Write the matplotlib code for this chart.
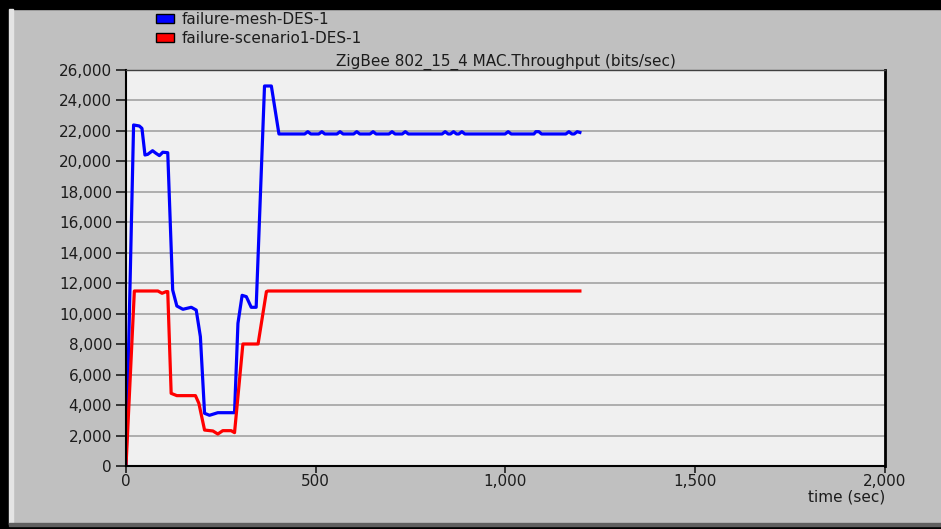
import matplotlib
matplotlib.use("Agg")
import matplotlib.pyplot as plt
from matplotlib.patches import Patch, Rectangle
from matplotlib.ticker import FuncFormatter, MultipleLocator

# data (time in sec, throughput in bits/sec)
mesh_t = [0, 20, 35, 42, 50, 57, 70, 79, 88, 97, 110, 123, 134, 150, 172, 185,
          196, 207, 220, 242, 286, 295, 306, 317, 330, 343, 365, 383, 403,
          471, 479, 487, 508, 516, 524, 556, 564, 572, 600, 608, 616, 643, 651,
          659, 693, 701, 709, 728, 736, 744, 833, 841, 849, 855, 863, 871, 877,
          885, 893, 999, 1007, 1015, 1075, 1080, 1088, 1095, 1159, 1167, 1175,
          1181, 1189, 1196]
mesh_v = [0, 22390, 22325, 22170, 20420, 20460, 20700, 20530, 20380, 20600,
          20570, 11555, 10505, 10290, 10420, 10240, 8490, 3460, 3330, 3500,
          3500, 9370, 11205, 11120, 10420, 10420, 24950, 24950, 21800,
          21800, 21950, 21800, 21800, 21950, 21800, 21800, 21950, 21800, 21800,
          21950, 21800, 21800, 21950, 21800, 21800, 21950, 21800, 21800, 21950,
          21800, 21800, 21950, 21800, 21800, 21950, 21800, 21800, 21950, 21800,
          21800, 21950, 21800, 21800, 21950, 21950, 21800, 21800, 21950, 21800,
          21800, 21950, 21900]

scen_t = [0, 22, 84, 95, 106, 110, 119, 134, 183, 192, 207, 229, 242, 255,
          277, 286, 308, 348, 370, 374, 1196]
scen_v = [0, 11490, 11490, 11340, 11450, 11450, 4770, 4620, 4620, 4115, 2360,
          2300, 2100, 2320, 2320, 2190, 8010, 8010, 11450, 11490, 11490]

labels = ["failure-mesh-DES-1", "failure-scenario1-DES-1"]
title = "ZigBee 802_15_4 MAC.Throughput (bits/sec)"

plt.rcParams['font.family'] = ['DejaVu Sans']
fs = 11
tc = "#1c1c1c"

fig = plt.figure(figsize=(9.41, 5.29), dpi=100, facecolor="#c0c0c0")

# window frame bits (black edges + light bevel)
fig.patches.append(Rectangle((0, 1 - 9/529), 1, 9/529, transform=fig.transFigure,
                             color="black", zorder=0))
fig.patches.append(Rectangle((0, 0), 9/941, 1, transform=fig.transFigure,
                             color="black", zorder=0))
fig.patches.append(Rectangle((9/941, 5/529), 4/941, 1 - 14/529,
                             transform=fig.transFigure, color="#e4e4e4", zorder=0))
fig.patches.append(Rectangle((0, 0), 1, 3/529, transform=fig.transFigure,
                             color="black", zorder=0))
fig.patches.append(Rectangle((9/941, 3/529), 1, 3/529, transform=fig.transFigure,
                             color="#606060", zorder=0))

ax = fig.add_axes([126/941, 63/529, 759/941, 396/529])
ax.set_facecolor("#f0f0f0")

ax.plot(mesh_t, mesh_v, color="#0000ff", lw=2.3, solid_joinstyle="round")
ax.plot(scen_t, scen_v, color="#ff0000", lw=2.3, solid_joinstyle="round")

ax.set_xlim(0, 2000)
ax.set_ylim(0, 26000)
ax.xaxis.set_major_locator(MultipleLocator(500))
ax.yaxis.set_major_locator(MultipleLocator(2000))
fmt = FuncFormatter(lambda v, p: "{:,.0f}".format(v))
ax.xaxis.set_major_formatter(fmt)
ax.yaxis.set_major_formatter(fmt)
ax.grid(axis="y", color="#9c9c9c", lw=1.1)
ax.set_axisbelow(True)

ax.tick_params(axis="y", direction="out", length=7, width=1.2, color=tc,
               labelsize=fs, labelcolor=tc, pad=3)
ax.tick_params(axis="x", direction="out", length=5, width=1.2, color=tc,
               labelsize=fs, labelcolor=tc, pad=1)

for s in ["left", "bottom"]:
    ax.spines[s].set_color("black")
    ax.spines[s].set_linewidth(1.5)
ax.spines["top"].set_color("#404040")
ax.spines["top"].set_linewidth(1.0)
ax.spines["right"].set_color("black")
ax.spines["right"].set_linewidth(2.0)

ax.set_title(title, fontsize=fs, color=tc, pad=3)
ax.set_xlabel("time (sec)", fontsize=fs, color=tc, loc="right", labelpad=0)

handles = [Patch(facecolor="#0000ff", edgecolor="black", lw=1),
           Patch(facecolor="#ff0000", edgecolor="black", lw=1)]
fig.legend(handles, labels, loc="upper left", bbox_to_anchor=(150/941, 1 - 6/529),
           frameon=False, fontsize=fs, handlelength=1.2, handleheight=0.55,
           handletextpad=0.5, labelspacing=0.25, borderaxespad=0,
           labelcolor=tc)

fig.savefig("out.png", dpi=100, facecolor=fig.get_facecolor())
